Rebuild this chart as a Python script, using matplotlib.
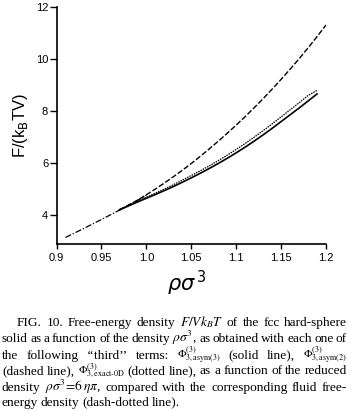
import matplotlib
matplotlib.use("Agg")
import matplotlib.pyplot as plt

# fluid (dash-dotted)
rho_fluid = [0.91, 0.92, 0.93, 0.94, 0.95, 0.96, 0.97, 0.98, 0.99, 1.0]
F_fluid = [3.15, 3.32, 3.49, 3.665, 3.84, 4.02, 4.20, 4.385, 4.575, 4.77]

# solid branch, read every 0.01 in rho
rho_solid = [0.97, 0.98, 0.99, 1.00, 1.01, 1.02, 1.03, 1.04, 1.05, 1.06, 1.07, 1.08,
             1.09, 1.10, 1.11, 1.12, 1.13, 1.14, 1.15, 1.16, 1.17, 1.18, 1.19]
# Phi3 asym(3) (solid line)
F_asym3 = [4.21, 4.36, 4.51, 4.655, 4.80, 4.95, 5.105, 5.27, 5.44, 5.615, 5.80, 5.99,
           6.19, 6.40, 6.62, 6.85, 7.09, 7.34, 7.60, 7.86, 8.12, 8.39, 8.66]
# Phi3 exact-0D (dotted line)
F_exact0d = [4.22, 4.38, 4.54, 4.695, 4.85, 5.01, 5.175, 5.35, 5.53, 5.71, 5.90, 6.10,
             6.31, 6.53, 6.76, 7.00, 7.25, 7.51, 7.78, 8.05, 8.32, 8.60, 8.80]

# Phi3 asym(2) (dashed line)
rho_asym2 = [0.97, 0.98, 0.99, 1.00, 1.01, 1.02, 1.03, 1.04, 1.05, 1.06, 1.07, 1.08,
             1.09, 1.10, 1.11, 1.12, 1.13, 1.14, 1.15, 1.16, 1.17, 1.18, 1.19, 1.20]
F_asym2 = [4.21, 4.39, 4.58, 4.79, 5.01, 5.24, 5.48, 5.73, 5.99, 6.265, 6.55, 6.845,
           7.15, 7.465, 7.79, 8.13, 8.48, 8.845, 9.22, 9.61, 10.01, 10.43, 10.86, 11.31]

xticks = [0.9, 0.95, 1.0, 1.05, 1.1, 1.15, 1.2]
xticklabels = ["0.9", "0.95", "1.0", "1.05", "1.1", "1.15", "1.2"]
yticks = [4, 6, 8, 10, 12]

caption = [
    "FIG. 10. Free-energy density $F/Vk_BT$ of the fcc hard-sphere",
    "solid as a function of the density $\\rho\\sigma^3$, as obtained with each one of",
    "the following \u2018\u2018third\u2019\u2019 terms: $\\Phi^{(3)}_{3,\\mathrm{asym(3)}}$ (solid line), $\\Phi^{(3)}_{3,\\mathrm{asym(2)}}$",
    "(dashed line), $\\Phi^{(3)}_{3,\\mathrm{exact\\text{-}0D}}$ (dotted line), as a function of the reduced",
    "density $\\rho\\sigma^3\\!=\\!6\\,\\eta\\pi$, compared with the corresponding fluid free-",
    "energy density (dash-dotted line).",
]

plt.rcParams['mathtext.fontset'] = 'stix'

W, H = 351, 411
fig = plt.figure(figsize=(W / 100, H / 100), dpi=100)
ax = fig.add_axes([56.5 / W, 1 - 244 / H, (326 - 56.5) / W, (244 - 7) / H])

ax.plot(rho_fluid, F_fluid, color='black', lw=0.9, linestyle=(0, (5, 1.5, 1, 1.5)))
ax.plot(rho_solid, F_asym3, color='black', lw=1.2, linestyle='-')
ax.plot(rho_solid, F_exact0d, color='black', lw=0.9, linestyle=(0, (1.2, 0.8)))
ax.plot(rho_asym2, F_asym2, color='black', lw=1.0, linestyle=(0, (4, 1.5)))

ax.set_xlim(0.9, 1.2)
ax.set_ylim(2.9, 12)
ax.spines['top'].set_visible(False)
ax.spines['right'].set_visible(False)
ax.spines['left'].set_linewidth(1.2)
ax.spines['bottom'].set_linewidth(1.2)
ax.set_xticks(xticks)
ax.set_xticklabels(xticklabels, family='Liberation Sans', fontsize=8)
ax.set_yticks(yticks)
ax.set_yticklabels([str(v) for v in yticks], family='Liberation Sans', fontsize=8)
ax.tick_params(axis='x', direction='out', length=3.5, width=1, pad=3)
ax.tick_params(axis='y', direction='out', length=5, width=1, pad=1)

fig.text(21 / W, 1 - 125 / H, "F/(k$_{\\rm B}$TV)", rotation=90, ha='center', va='center',
         family='Liberation Sans', fontsize=12, math_fontfamily='dejavusans')
fig.text(187 / W, 1 - 283 / H, "$\\rho\\sigma^{\\,3}$", ha='center', va='center',
         fontsize=15, math_fontfamily='dejavusans')

# justified caption
baselines = [326, 341.5, 358.5, 374, 391, 405.5]
lefts = [17, 2, 2, 2, 2, 2]
right = 347
renderer = fig.canvas.get_renderer()
for i, line in enumerate(caption):
    words = line.split(" ")
    texts = []
    for w in words:
        size = 8.2 if "Phi" in w else 9.6
        texts.append(fig.text(0, 1 - baselines[i] / H, w, family='Liberation Serif',
                              fontsize=size, va='baseline', ha='left'))
    widths = [t.get_window_extent(renderer).width for t in texts]
    if i < len(caption) - 1:
        gap = (right - lefts[i] - sum(widths)) / (len(words) - 1)
    else:
        gap = 2.6
    x = lefts[i]
    for t, w in zip(texts, widths):
        t.set_x(x / W)
        x += w + gap

fig.savefig("out.png", dpi=100)
